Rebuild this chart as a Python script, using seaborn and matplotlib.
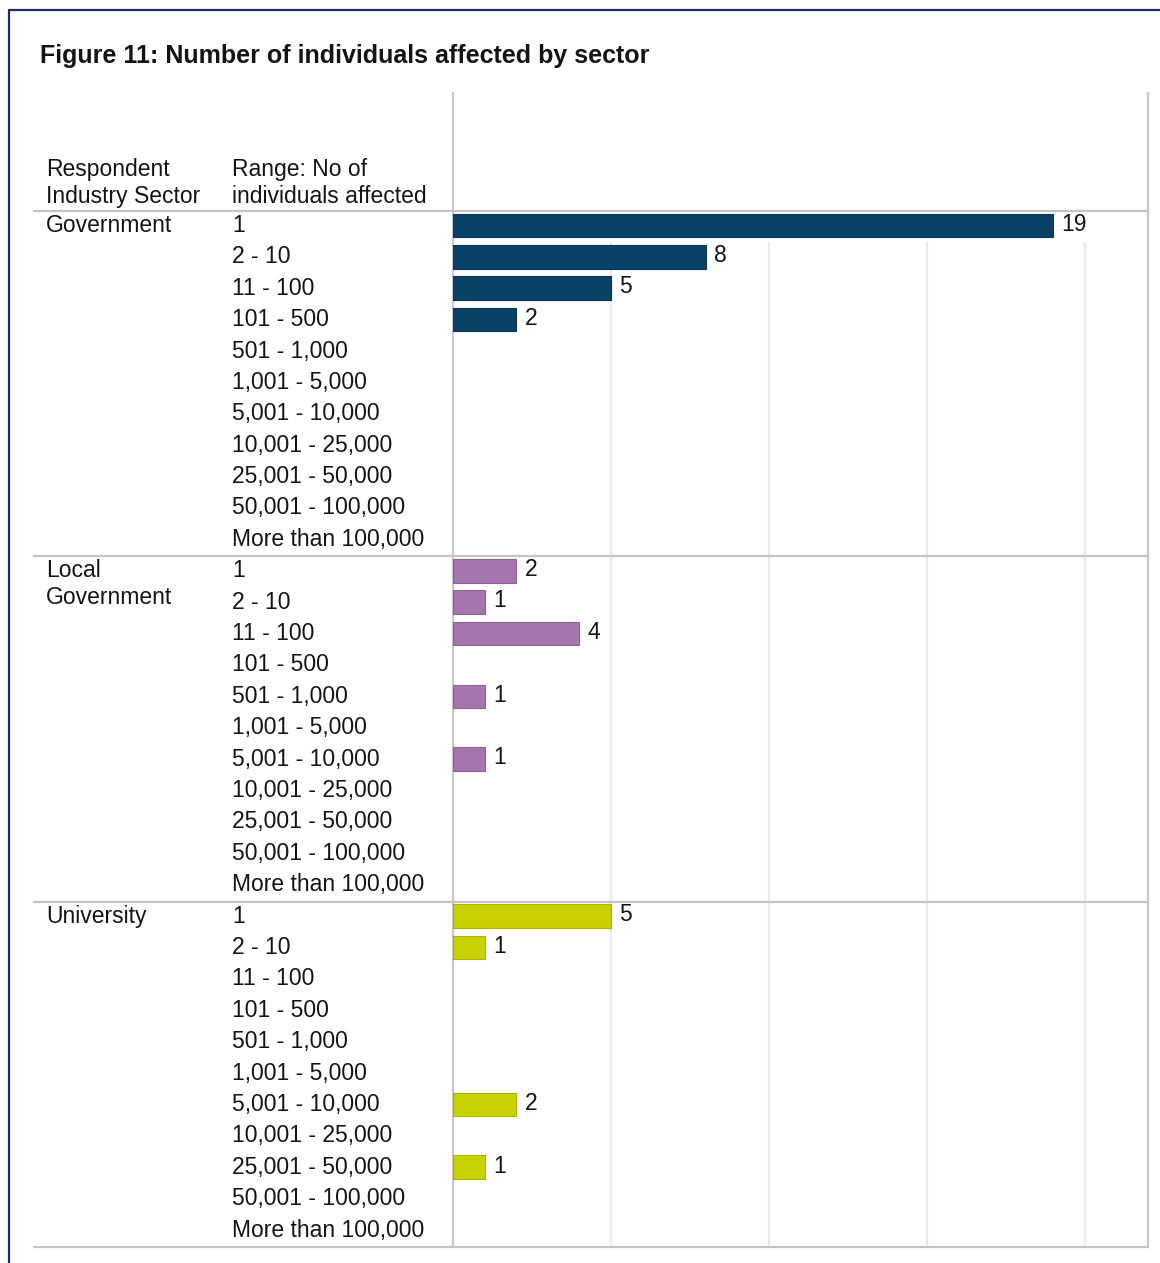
import numpy as np
import pandas as pd
import matplotlib
matplotlib.use("Agg")
import matplotlib.pyplot as plt
import matplotlib.transforms as mtransforms
from matplotlib.lines import Line2D
import seaborn as sns

# ---- data ----
sectors = ["Government", "Local Government", "University"]
sector_labels = ["Government", "Local\nGovernment", "University"]
ranges = ["1", "2 - 10", "11 - 100", "101 - 500", "501 - 1,000", "1,001 - 5,000",
          "5,001 - 10,000", "10,001 - 25,000", "25,001 - 50,000",
          "50,001 - 100,000", "More than 100,000"]
government = [19, 8, 5, 2, 0, 0, 0, 0, 0, 0, 0]
local_government = [2, 1, 4, 0, 1, 0, 1, 0, 0, 0, 0]
university = [5, 1, 0, 0, 0, 0, 2, 0, 1, 0, 0]
colors = ["#0a4166", "#a674ae", "#c8d200"]

counts = [government, local_government, university]
rows = []
for s_i, (sector, vals) in enumerate(zip(sectors, counts)):
    for r_i, (rng, v) in enumerate(zip(ranges, vals)):
        rows.append({"sector": sector, "range": rng,
                     "row": s_i * len(ranges) + r_i, "count": v})
df = pd.DataFrame(rows)
plot_df = df[df["count"] > 0]

sns.set_theme(style="white")
plt.rcParams["font.family"] = ["Liberation Sans", "DejaVu Sans"]
text_color = "#141414"
fs = 16.5

W, H = 1160, 1263
fig = plt.figure(figsize=(W / 100, H / 100), dpi=100)
ax_l, ax_r, ax_t, ax_b = 453, 1148, 93, 1247
ax = fig.add_axes([ax_l / W, 1 - ax_b / H, (ax_r - ax_l) / W, (ax_b - ax_t) / H])

n_rows = len(ranges) * len(sectors)
row_h = (ax_b - 211) / n_rows
header = (211 - ax_t) / row_h

sns.barplot(data=plot_df, x="count", y="row", hue="sector", hue_order=sectors,
            palette=colors, orient="h", native_scale=True, dodge=False,
            width=0.75, legend=False, edgecolor=None, linewidth=0.8,
            saturation=1, ax=ax, zorder=3)
for p in ax.patches:
    fc = np.array(p.get_facecolor()[:3])
    p.set_edgecolor(tuple(fc * 0.85))
    p.set_y(p.get_y() - 0.04)

ax.set_xlim(0, 22)
ax.set_ylim(n_rows - 0.5, -0.5 - header)
ax.set_xticks([])
ax.set_yticks([])
ax.set_xlabel("")
ax.set_ylabel("")
for side in ["top", "bottom"]:
    ax.spines[side].set_visible(False)
for side in ["left", "right"]:
    ax.spines[side].set_color("#c8c8c8")
    ax.spines[side].set_linewidth(1.6)

# vertical gridlines
ax.vlines([5, 10, 15, 20], 0.5, n_rows - 0.5, color="#ebebeb", lw=1.6, zorder=1)

# value labels
for _, r in plot_df.iterrows():
    ax.annotate(str(r["count"]), (r["count"], r["row"] - 0.08), xytext=(6, 0),
                textcoords="offset points", va="center", ha="left",
                fontsize=fs, color=text_color)

# row labels on the left
trans = mtransforms.blended_transform_factory(fig.transFigure, ax.transData)
x_sector, x_range = 46 / W, 232 / W
for s_i, lab in enumerate(sector_labels):
    base = s_i * len(ranges)
    if "\n" in lab:
        ax.text(x_sector, base - 0.5 + 0.1, lab, transform=trans, ha="left",
                va="top", fontsize=fs, color=text_color, linespacing=1.22,
                clip_on=False)
    else:
        ax.text(x_sector, base - 0.04, lab, transform=trans, ha="left",
                va="center", fontsize=fs, color=text_color, clip_on=False)
    for r_i, rng in enumerate(ranges):
        ax.text(x_range, base + r_i - 0.04, rng, transform=trans, ha="left",
                va="center", fontsize=fs, color=text_color, clip_on=False)

# column headers
ax.text(x_sector, -1.4, "Respondent\nIndustry Sector", transform=trans,
        ha="left", va="center", fontsize=fs, color=text_color,
        linespacing=1.22, clip_on=False)
ax.text(x_range, -1.4, "Range: No of\nindividuals affected", transform=trans,
        ha="left", va="center", fontsize=fs, color=text_color,
        linespacing=1.22, clip_on=False)

# horizontal separators between sector groups
for yv in [-0.5, 10.5, 21.5, 32.5]:
    ax.add_line(Line2D([34 / W, ax_r / W], [yv, yv], transform=trans,
                       color="#c4c4c4", lw=1.6, clip_on=False, zorder=4))

# title
fig.text(40 / W, 1 - 56 / H, "Figure 11: Number of individuals affected by sector",
         ha="left", va="center", fontsize=18, fontweight="bold", color=text_color)

# frame on top and left
navy = "#1c2c6c"
fig.add_artist(Line2D([9 / W, 1.0], [1 - 10 / H, 1 - 10 / H],
                      transform=fig.transFigure, color=navy, lw=1.6))
fig.add_artist(Line2D([9 / W, 9 / W], [1 - 10 / H, 0],
                      transform=fig.transFigure, color=navy, lw=1.6))

fig.savefig("out.png", dpi=100, facecolor="white")
